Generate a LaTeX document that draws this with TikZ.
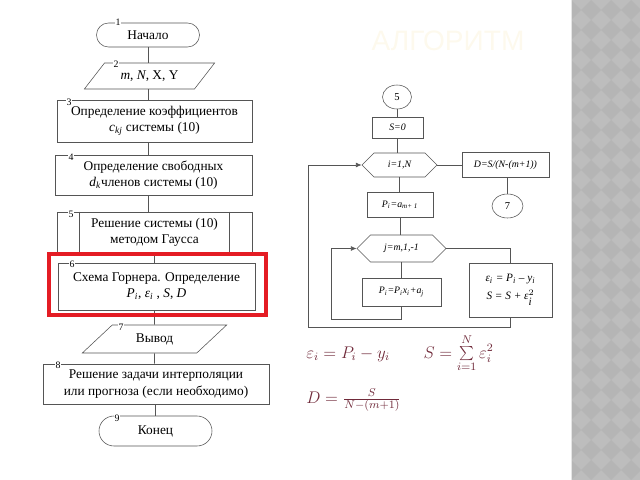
\documentclass[tikz,border=0pt]{standalone}
\usepackage{fontspec}
\setmainfont{Liberation Serif}
\newfontfamily\titlefont{Liberation Sans}
\usetikzlibrary{arrows.meta, shapes.geometric, shapes.symbols}

\definecolor{linegray}{RGB}{85,85,85}
\definecolor{formulared}{RGB}{112,42,58}
\definecolor{titlecream}{RGB}{253,249,237}
\definecolor{barlight}{RGB}{189,189,189}
\definecolor{bardark}{RGB}{181,181,181}
\definecolor{framered}{RGB}{228,28,36}

\newcommand{\isub}[2]{\textit{#1}\textsubscript{\textit{#2}}}
\newcommand{\isubsup}[3]{\textit{#1}$^{#3}_{\textit{#2}}$}

\tikzset{
	box/.style={draw=linegray, rectangle, align=center, inner sep=1pt,
		font=\fontsize{9.5}{11.5}\selectfont},
	iobox/.style={box, trapezium, trapezium left angle=45,
		trapezium right angle=135, trapezium stretches=true},
	numlbl/.style={font=\fontsize{7}{8}\selectfont, fill=white, inner sep=0.6pt},
	smallbox/.style={draw=linegray, rectangle, align=center, inner sep=1pt,
		font=\fontsize{7}{8.5}\selectfont\itshape},
	hexbox/.style={smallbox, signal, signal to=east and west, signal pointer angle=90},
	conn/.style={draw=linegray, ellipse, inner sep=0pt, font=\fontsize{7.5}{9}\selectfont},
	flow/.style={draw=linegray, line width=0.5pt},
	formula/.style={text=formulared, inner sep=0pt, font=\fontsize{12}{14}\selectfont}
}

\begin{document}
\begin{tikzpicture}[x=0.025cm, y=-0.025cm, >={Latex[length=4pt,width=3.5pt]}]
\useasboundingbox (0,0) rectangle (640,480);

%========================
% Right: grey side bar
%========================
\begin{scope}
	\clip (571,0) rectangle (640,480);
	\fill[barlight] (571,0) rectangle (640,480);
	\foreach \i in {0,...,4}{
		\foreach \j in {0,...,24}{
			\fill[bardark] (571+20*\i,20*\j) -- ++(10,10) -- ++(-10,10) -- ++(-10,-10) -- cycle;
		}
	}
\end{scope}
\draw[white!80!gray, line width=0.8pt] (571.5,0) -- (571.5,480);

% title (almost invisible on white)
\node[text=titlecream, font=\titlefont\fontsize{20}{24}\selectfont] (title) at (448,41) {АЛГОРИТМ};

%========================
% Left: main algorithm
%========================
\node[box, minimum width=2.575cm, minimum height=0.6cm, rounded corners=0.3cm] (start) at (148,35) {Начало};
\node[iobox, minimum width=3.275cm, minimum height=0.65cm] (inp) at (149.5,76) {\textit{m}, \textit{N}, X, Y};
\node[box, minimum width=4.875cm, minimum height=1.05cm] (coef) at (154.5,121)
	{Определение коэффициентов\\\isub{c}{kj} системы (10)};
\node[box, minimum width=4.925cm, minimum height=1cm] (free) at (153.5,175)
	{Определение свободных\\\isub{d}{k}членов системы (10)};
\node[box, minimum width=4.875cm, minimum height=1cm] (gauss) at (154.5,232)
	{Решение системы (10)\\методом Гаусса};
\draw[flow] ([xshift=0.575cm]gauss.north west) -- ([xshift=0.575cm]gauss.south west);
\draw[flow] ([xshift=-0.575cm]gauss.north east) -- ([xshift=-0.575cm]gauss.south east);
\node[box, minimum width=4.925cm, minimum height=1.175cm] (horner) at (156.5,286.5)
	{Схема Горнера. Определение\\\isub{P}{i}, \isub{ε}{i} , \textit{S}, \textit{D}};
\node[iobox, minimum width=3.625cm, minimum height=0.7cm] (outp) at (154.5,339) {Вывод};
\node[box, minimum width=5.65cm, minimum height=1cm] (interp) at (156,384)
	{Решение задачи интерполяции\\или прогноза (если необходимо)};
\node[box, minimum width=2.825cm, minimum height=0.75cm, rounded corners=0.375cm] (stop) at (155.5,431) {Конец};

% connectors
\draw[flow] (start.south) -- (start.south |- inp.north);
\draw[flow] (inp.south -| start) -- (coef.north -| start);
\draw[flow] (coef.south -| start) -- (free.north -| start);
\draw[flow] (free.south -| start) -- (gauss.north -| start);
\draw[flow] (gauss.south -| outp) -- (horner.north -| outp);
\draw[flow] (horner.south -| outp) -- (outp.north);
\draw[flow] (outp.south) -- (interp.north -| outp);
\draw[flow] (interp.south -| stop) -- (stop.north);

% highlight of block 6
\draw[framered, line width=2.2pt] (49,254) rectangle (266,315);

% block numbers
\node[numlbl] (n1) at (118,22) {1};
\node[numlbl] (n2) at (116,64) {2};
\node[numlbl] (n3) at (69,102) {3};
\node[numlbl] (n4) at (71,157) {4};
\node[numlbl] (n5) at (71,214) {5};
\node[numlbl] (n6) at (72,264) {6};
\node[numlbl] (n7) at (121,327) {7};
\node[numlbl] (n8) at (58,365) {8};
\node[numlbl] (n9) at (117,418) {9};

%========================
% Right: block 6 in detail
%========================
\node[conn, minimum width=0.725cm, minimum height=0.6cm] (c5) at (397,97) {5};
\node[smallbox, minimum width=1.275cm, minimum height=0.525cm] (szero) at (397.5,127.5) {S=0};
\node[hexbox, minimum width=1.875cm, minimum height=0.6cm] (loopi) at (399.5,165) {i=1,N};
\node[smallbox, minimum width=2.175cm, minimum height=0.625cm] (dval) at (505.5,165) {D=S/(N-(m+1))};
\node[conn, minimum width=0.775cm, minimum height=0.6cm] (c7) at (507.5,206) {7};
\node[smallbox, minimum width=1.65cm, minimum height=0.625cm] (pinit) at (400,204.5)
	{\isub{P}{i}=\textit{a}\textsubscript{\textit{m}+ 1}};
\node[hexbox, minimum width=2.225cm, minimum height=0.675cm] (loopj) at (401.5,248.5) {j=m,1,-1};
\node[smallbox, minimum width=1.975cm, minimum height=0.7cm] (pstep) at (401.5,292)
	{\isub{P}{i}=\isub{P}{i}\isub{x}{i}+\isub{a}{j}};
\node[smallbox, minimum width=2.075cm, minimum height=1.35cm,
	font=\fontsize{8}{13}\selectfont\itshape] (epsb) at (510.5,290)
	{\isub{ε}{i} = \isub{P}{i} – \isub{y}{i}\\S = S + \isubsup{ε}{i}{2}};

\coordinate (jback) at (331,319);
\coordinate (iback) at (308,327);

% connectors
\draw[flow] (c5.south) -- (c5.south |- szero.north);
\draw[flow] (szero.south) -- (szero.south |- loopi.north);
\draw[flow] (loopi.south) -- (loopi.south |- pinit.north);
\draw[flow] (pinit.south) -- (pinit.south |- loopj.north);
\draw[flow] (loopj.south) -- (loopj.south |- pstep.north);
\draw[flow] (loopi.east) -- (loopi.east -| dval.west);
\draw[flow] (dval.south -| c7) -- (c7.north);
\draw[flow, ->] (pstep.south) |- (jback) |- (loopj.west);
\draw[flow] (loopj.east) -| (epsb.north);
\draw[flow, ->] (epsb.south) |- (iback) |- (loopi.west);

% formulas
\node[formula, anchor=base west] (feps) at (306,358)
	{$\varepsilon_i = P_i - y_i \qquad S = \sum\limits_{i=1}^{N} \varepsilon_i^2$};
\node[formula, anchor=base west] (fdisp) at (306,403) {$D = \frac{S}{N-(m+1)}$};

\end{tikzpicture}
\end{document}
